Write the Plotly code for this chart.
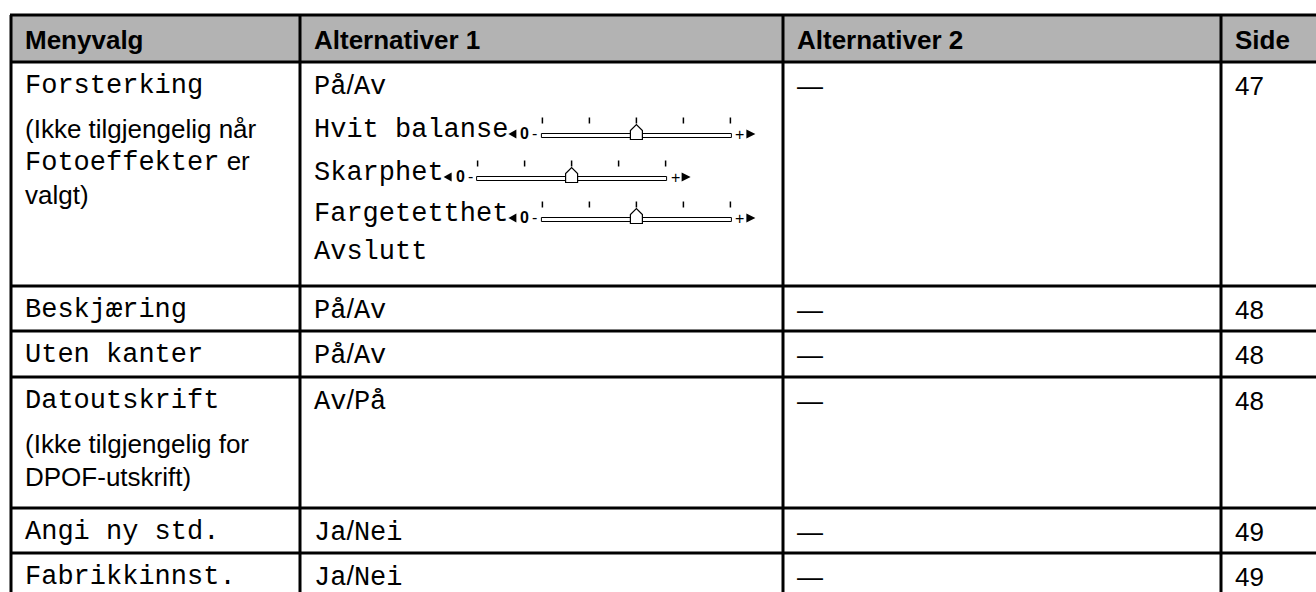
import plotly.graph_objects as go

# ---------------- data ----------------
headers = ["Menyvalg", "Alternativer 1", "Alternativer 2", "Side"]
menu_items = ["Forsterking", "Beskjæring", "Uten kanter", "Datoutskrift", "Angi ny std.", "Fabrikkinnst."]
# notes under a menu item: each line is a list of (text, font kind) segments
menu_notes = [
    [[("(Ikke tilgjengelig når", "sans")], [("Fotoeffekter", "mono"), (" er", "sans")], [("valgt)", "sans")]],
    [], [],
    [[("(Ikke tilgjengelig for", "sans")], [("DPOF-utskrift)", "sans")]],
    [], [],
]
alt1_options = [
    ["På/Av", "Hvit balanse", "Skarphet", "Fargetetthet", "Avslutt"],
    ["På/Av"], ["På/Av"], ["Av/På"], ["Ja/Nei"], ["Ja/Nei"],
]
slider_items = ["Hvit balanse", "Skarphet", "Fargetetthet"]
slider_steps = 5
slider_values = [2, 2, 2]
alt2_options = ["—", "—", "—", "—", "—", "—"]
pages = ["47", "48", "48", "48", "49", "49"]

# ---------------- layout geometry ----------------
W, H = 1316, 592
col_x = [11, 300, 783, 1221, 1322]
row_y = [15, 62, 286, 331, 377, 508, 553, 598]
pad_x = 12
first_line_off = 23.5
note_off = 43
alt_line_offsets = [0, 44, 87, 128, 166]
sans_line = 33
FS_MONO = 27
FS_SANS = 26
CHAR_W = 0.6 * FS_MONO
MONO = "Liberation Mono, Courier New, monospace"
SANS = "Liberation Sans, Arial, sans-serif"
LINE = "#000000"
HEAD_FILL = "#b3b3b3"

fig = go.Figure()
shapes = []
ann = []


def txt(x, y, s, font=SANS, size=FS_SANS, bold=False, anchor="left"):
    ann.append(dict(x=x, y=y, xref="x", yref="y", text=s, showarrow=False,
                    xanchor=anchor, yanchor="middle",
                    font=dict(family=font, size=size, color="#000",
                              weight="bold" if bold else "normal")))


def slash_fix(s):
    return s.replace("/", '<span style="font-family:Liberation Sans">/</span>')


# header background
shapes.append(dict(type="rect", x0=col_x[0], x1=col_x[-1], y0=row_y[0], y1=row_y[1],
                   fillcolor=HEAD_FILL, line=dict(width=0), layer="below"))
# horizontal lines
for y in row_y:
    shapes.append(dict(type="line", x0=col_x[0] - 1, x1=col_x[-1], y0=y, y1=y,
                       line=dict(color=LINE, width=3)))
# vertical lines
for x in col_x:
    shapes.append(dict(type="line", x0=x, x1=x, y0=row_y[0], y1=row_y[-1],
                       line=dict(color=LINE, width=3)))

# header text
hy = (row_y[0] + row_y[1]) / 2 + 1
for i, h in enumerate(headers):
    txt(col_x[i] + pad_x, hy, h, bold=True)


def draw_slider(x_end, yc, value):
    tx = x_end + 2
    shapes.append(dict(type="path", path=f"M {tx+8},{yc} L {tx+8},{yc+9} L {tx},{yc+4.5} Z",
                       fillcolor="#000", line=dict(width=0)))
    txt(x_end + 12, yc + 4, "<b>0</b>", font=SANS, size=16)
    txt(x_end + 24, yc + 4, "-", font=SANS, size=16)
    b0 = x_end + 35
    b1 = b0 + 190
    shapes.append(dict(type="rect", x0=b0, x1=b1, y0=yc + 4, y1=yc + 8,
                       fillcolor="#fff", line=dict(color="#000", width=1)))
    step = (b1 - b0 - 2) / (slider_steps - 1)
    for k in range(slider_steps):
        xk = b0 + 1 + k * step
        shapes.append(dict(type="line", x0=xk, x1=xk, y0=yc - 12, y1=yc - 6,
                           line=dict(color="#000", width=1.5)))
    xt = b0 + 1 + value * step
    shapes.append(dict(type="path",
                       path=f"M {xt-6},{yc+10} L {xt-6},{yc+1} L {xt},{yc-5} L {xt+6},{yc+1} L {xt+6},{yc+10} Z",
                       fillcolor="#fff", line=dict(color="#000", width=1.2)))
    txt(b1 + 2, yc + 5, "+", font=SANS, size=16)
    rx = b1 + 15
    shapes.append(dict(type="path", path=f"M {rx},{yc} L {rx},{yc+9} L {rx+9},{yc+4.5} Z",
                       fillcolor="#000", line=dict(width=0)))


# body
for r in range(len(menu_items)):
    top = row_y[r + 1]
    y0 = top + first_line_off
    # column 1
    txt(col_x[0] + pad_x, y0, menu_items[r], font=MONO, size=FS_MONO)
    yl = y0 + note_off
    for line in menu_notes[r]:
        s = ""
        for seg, kind in line:
            fam = "Liberation Mono" if kind == "mono" else "Liberation Sans"
            sz = FS_MONO if kind == "mono" else FS_SANS
            s += f'<span style="font-family:{fam};font-size:{sz}px">{seg}</span>'
        txt(col_x[0] + pad_x, yl, s, font=SANS, size=FS_SANS)
        yl += sans_line
    # column 2
    for j, opt in enumerate(alt1_options[r]):
        yj = y0 + alt_line_offsets[j]
        txt(col_x[1] + pad_x, yj, slash_fix(opt), font=MONO, size=FS_MONO)
        if opt in slider_items:
            x_end = col_x[1] + pad_x + len(opt) * CHAR_W
            draw_slider(x_end, yj, slider_values[slider_items.index(opt)])
    # column 3
    txt(col_x[2] + pad_x, y0, alt2_options[r], font=SANS, size=FS_SANS)
    # column 4
    txt(col_x[3] + pad_x, y0, pages[r], font=SANS, size=FS_SANS)

fig.update_layout(
    width=W, height=H, margin=dict(l=0, r=0, t=0, b=0),
    paper_bgcolor="#fff", plot_bgcolor="#fff",
    xaxis=dict(range=[0, W], visible=False, fixedrange=True),
    yaxis=dict(range=[H, 0], visible=False, fixedrange=True),
    shapes=shapes, annotations=ann, showlegend=False,
)
fig.write_html("out.html", config={"displayModeBar": False},
               post_script="document.body.style.margin='0';document.body.style.overflow='hidden';")
